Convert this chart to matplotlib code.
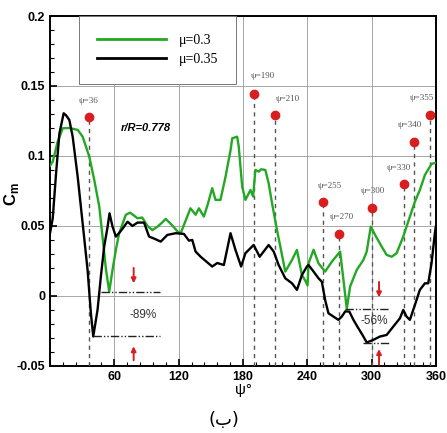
import matplotlib
matplotlib.use("Agg")
import matplotlib.pyplot as plt
from matplotlib.ticker import MultipleLocator

plt.rcParams['font.family'] = ['Liberation Sans', 'DejaVu Sans']

# moment coefficient along azimuth, r/R = 0.778
psi_03 = [0, 2.5, 7, 11.8, 18, 25.8, 30.4, 36.6, 41.2, 45.9, 49, 52, 55.2, 58.3, 61.4,
          64.5, 70.7, 74.7, 81.6, 86, 90.9, 95.5, 100.2, 104, 107.9, 112, 115.6, 119,
          122, 128, 131, 135.8, 138.9, 143.5, 147, 151.3, 154.4, 159, 163.7, 168.4, 170,
          174.6, 176.1, 179.3, 182.3, 187, 189.5, 191.6, 194.7, 197, 200.9, 204, 207.2,
          211.8, 214.9, 219.5, 225.8, 230.4, 235, 238.1, 240.3, 241.2, 245.9, 250.5,
          256.7, 263, 270.7, 273.8, 276.9, 280, 286.2, 292.4, 295.5, 299.3, 303.3,
          309.5, 314.1, 318.8, 323.4, 329.6, 334.2, 340.5, 345.1, 349.8, 356, 360]
cm_03 = [0.093, 0.096, 0.11, 0.1198, 0.12, 0.1186, 0.1138, 0.0995, 0.083, 0.064, 0.042,
         0.02, 0.003, 0.0186, 0.033, 0.0448, 0.058, 0.0595, 0.0555, 0.056, 0.05, 0.047,
         0.0495, 0.052, 0.055, 0.052, 0.049, 0.046, 0.045, 0.0567, 0.0626, 0.058, 0.0626,
         0.0567, 0.065, 0.077, 0.0686, 0.0686, 0.085, 0.104, 0.1126, 0.1138, 0.1066,
         0.078, 0.0686, 0.0757, 0.071, 0.09, 0.0888, 0.0905, 0.09, 0.0805, 0.066, 0.047,
         0.0352, 0.0174, 0.0257, 0.0329, 0.015, 0.011, 0.0075, 0.0233, 0.033, 0.0233,
         0.0174, 0.0245, 0.0317, 0.0114, -0.0093, 0.0067, 0.0186, 0.0257, 0.0317, 0.0495,
         0.0436, 0.0352, 0.0293, 0.028, 0.0305, 0.0424, 0.053, 0.0674, 0.0757, 0.0864,
         0.0943, 0.0952]

psi_035 = [0, 2.5, 5.6, 8.7, 12.7, 15, 18, 21.1, 25.8, 30.4, 35, 38.1, 40.3, 44.3, 47.4,
           50.5, 53.7, 55.5, 58.3, 61.4, 64.5, 67.6, 72.3, 76.9, 81.6, 87.7, 92.4, 97,
           103.3, 109.5, 117.2, 124.9, 129.6, 132.7, 135.8, 140.5, 146.7, 151.3, 156,
           162.2, 168.4, 173, 178.3, 182.3, 190, 195.6, 204, 208.7, 213.3, 219.5, 225.8,
           230.4, 235.1, 239.7, 241.2, 245.9, 250.5, 253.6, 256.7, 259.8, 264.5, 269.1,
           272.2, 275.5, 279.3, 283.1, 287.7, 292.4, 295.5, 301.7, 307.9, 314.1, 320.3,
           326.5, 329.6, 332.7, 335.8, 340.5, 345.1, 349.8, 352.9, 356, 359.1, 360]
cm_035 = [0.045, 0.0555, 0.0876, 0.116, 0.1305, 0.129, 0.1257, 0.1138, 0.085, 0.0519,
          0.0186, -0.0124, -0.029, -0.01, 0.0138, 0.0352, 0.0495, 0.059, 0.0495, 0.0424,
          0.045, 0.048, 0.053, 0.05, 0.0524, 0.0524, 0.0424, 0.041, 0.0388, 0.0436,
          0.0448, 0.0443, 0.0395, 0.04, 0.0317, 0.028, 0.024, 0.021, 0.0235, 0.0221,
          0.0448, 0.0329, 0.021, 0.0305, 0.0364, 0.028, 0.0364, 0.0317, 0.0221, 0.0126,
          0.009, 0.0043, 0.015, 0.021, 0.0221, 0.0174, 0.0126, 0.0102, -0.0029, -0.0124,
          -0.0148, -0.0171, -0.0148, -0.011, -0.0112, -0.0171, -0.0231, -0.029, -0.0333,
          -0.0314, -0.029, -0.0279, -0.0219, -0.016, -0.01, -0.0148, -0.0171, -0.0064,
          0.0043, 0.009, 0.009, 0.0233, 0.0448, 0.0495]

# highlighted azimuth stations
mark_psi = [36, 190, 210, 255, 270, 300, 330, 340, 355]
mark_cm = [0.1276, 0.1441, 0.129, 0.0669, 0.0443, 0.0631, 0.0798, 0.1102, 0.1295]
# label offsets in points (dx, dy)
mark_off = [(0, 9), (7, 10), (9, 9), (5, 9), (2, 9), (1, 9), (-3, 9), (-3, 9), (-6, 9)]

red = '#d81e1e'

fig, ax = plt.subplots(figsize=(4.47, 4.33), dpi=100)
fig.subplots_adjust(left=0.112, right=0.975, bottom=0.155, top=0.963)

ax.plot(psi_03, cm_03, color='#22a822', lw=1.7, label='μ=0.3', zorder=4)
ax.plot(psi_035, cm_035, color='black', lw=1.7, label='μ=0.35', zorder=4)

for p, c, off in zip(mark_psi, mark_cm, mark_off):
    ax.plot([p, p], [-0.05, c], color='#555555', lw=1.0, ls=(0, (3, 3)), zorder=3)
    ax.plot(p, c, 'o', color=red, ms=6, zorder=5)
    ax.annotate('ψ=%d' % p, (p, c), xytext=off, textcoords='offset points',
                ha='center', va='bottom', fontsize=6.5, color='#555555',
                family='Liberation Serif')

# reduction markers
dashdot = (0, (6, 1.5, 1, 1.5, 1, 1.5))
ax.plot([48, 103], [0.003, 0.003], color='#222222', lw=1.0, ls=dashdot, zorder=4)
ax.plot([40.3, 103], [-0.029, -0.029], color='#222222', lw=1.0, ls=dashdot, zorder=4)
ax.text(87, -0.0135, '-89%', ha='center', va='center', fontsize=8.5, color='#333333')
ax.annotate('', xy=(78, 0.007), xytext=(78, 0.022),
            arrowprops=dict(arrowstyle='-|>', color=red, lw=1.4, mutation_scale=7))
ax.annotate('', xy=(78, -0.034), xytext=(78, -0.048),
            arrowprops=dict(arrowstyle='-|>', color=red, lw=1.4, mutation_scale=7))

ax.plot([275, 317], [-0.0093, -0.0093], color='#222222', lw=1.0, ls=dashdot, zorder=4)
ax.plot([292, 316], [-0.0333, -0.0333], color='#222222', lw=1.0, ls=dashdot, zorder=4)
ax.text(303, -0.0176, '-56%', ha='center', va='center', fontsize=8.5, color='#333333')
ax.annotate('', xy=(307, -0.003), xytext=(307, 0.012),
            arrowprops=dict(arrowstyle='-|>', color=red, lw=1.4, mutation_scale=7))
ax.annotate('', xy=(307, -0.036), xytext=(307, -0.051),
            arrowprops=dict(arrowstyle='-|>', color=red, lw=1.4, mutation_scale=7),
            annotation_clip=False)

ax.text(89, 0.1198, 'r/R=0.778', ha='center', va='center', fontsize=8,
        fontweight='bold', fontstyle='italic')

ax.set_xlim(0, 360)
ax.set_ylim(-0.05, 0.2)
ax.set_xticks([60, 120, 180, 240, 300, 360])
ax.set_yticks([-0.05, 0, 0.05, 0.1, 0.15, 0.2])
ax.set_yticklabels(['-0.05', '0', '0.05', '0.1', '0.15', '0.2'])
ax.xaxis.set_minor_locator(MultipleLocator(12))
ax.yaxis.set_minor_locator(MultipleLocator(0.01))
ax.tick_params(which='both', direction='in', top=False, right=False)
ax.tick_params(which='major', length=5, width=1.2, labelsize=9)
ax.tick_params(which='minor', length=3, width=0.8)
for lbl in ax.get_xticklabels() + ax.get_yticklabels():
    lbl.set_fontweight('bold')
for s in ax.spines.values():
    s.set_linewidth(1.4)
ax.grid(True, which='major', color='#999999', lw=0.6)
ax.set_axisbelow(True)

ax.set_xlabel('ψ°', fontsize=11, labelpad=0)
ax.set_ylabel('C$_\\mathregular{m}$', fontsize=12, fontweight='bold')
ax.yaxis.set_label_coords(-0.075, 0.49)

leg = ax.legend(loc='upper left', bbox_to_anchor=(0.075, 1.0), borderaxespad=0,
                handlelength=5.0, handletextpad=0.9, borderpad=1.3, labelspacing=0.45,
                fancybox=False, framealpha=1, edgecolor='#777777',
                prop={'family': 'Liberation Serif', 'size': 10})
leg.get_frame().set_linewidth(0.7)
for h in leg.get_lines():
    h.set_linewidth(2.0)

fig.text(0.5, 0.03, '(ب)', ha='center', va='center', fontsize=13,
         family=['DejaVu Sans'])

fig.savefig('out.png', dpi=100)
